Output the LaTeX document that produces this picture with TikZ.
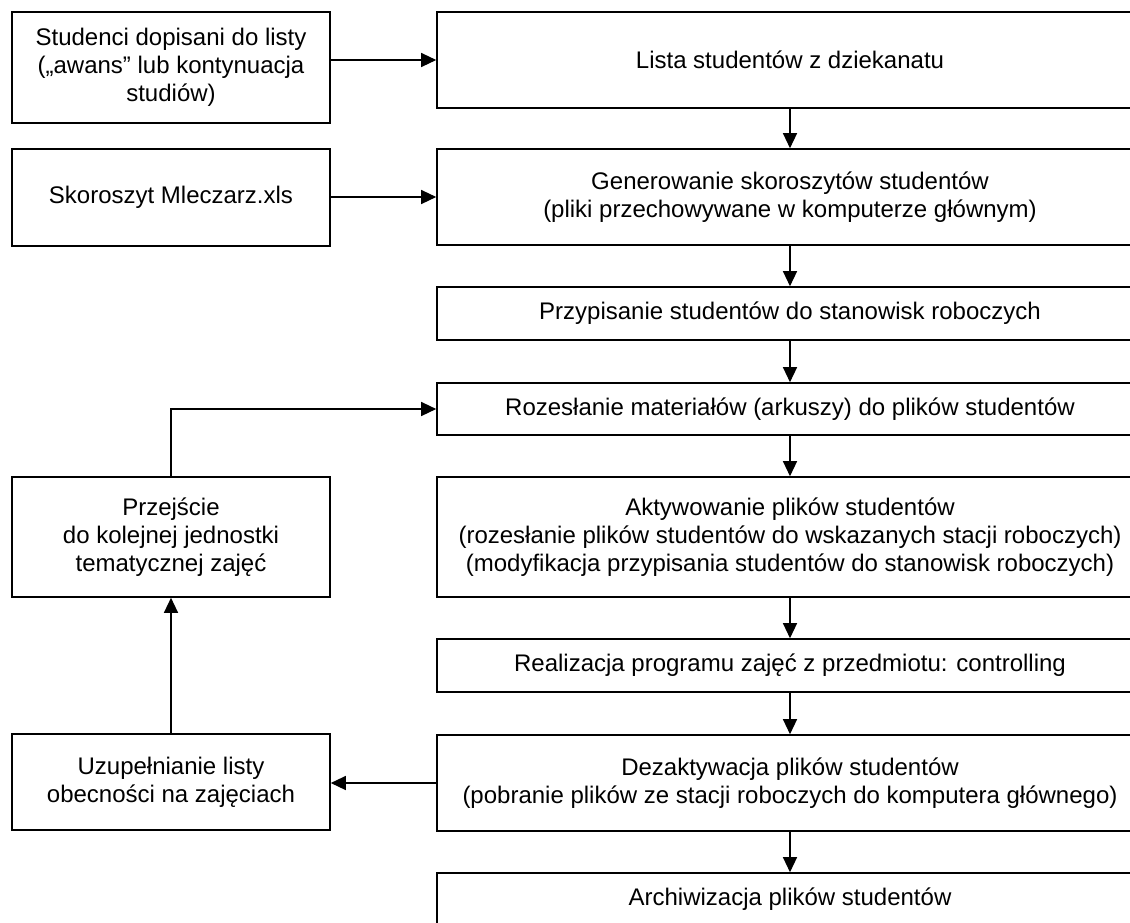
\documentclass[tikz,border=0pt]{standalone}
\usepackage{fontspec}
\setmainfont{Liberation Sans}
\usetikzlibrary{arrows.meta}
\begin{document}
\begin{tikzpicture}[x=1pt,y=-1pt,
  box/.style={draw, line width=1.6pt, inner sep=0pt, align=center,
    font=\fontsize{24}{28}\selectfont},
  lbox/.style={box, minimum width=318pt},
  rbox/.style={box, minimum width=706pt},
  conn/.style={line width=1.3pt, -{Triangle[length=15pt,width=14pt]}}]
\clip (0,0) rectangle (1130,922);
\fill[white] (0,0) rectangle (1130,922);
% left column
\node[lbox, minimum height=111pt] (L1) at (171,67.5) {Studenci dopisani do listy\\(„awans” lub kontynuacja\\studiów)};
\node[lbox, minimum height=97pt] (L2) at (171,197.5) {Skoroszyt Mleczarz.xls};
\node[lbox, minimum height=120pt] (L3) at (171,537) {Przejście\\do kolejnej jednostki\\tematycznej zajęć};
\node[lbox, minimum height=96pt] (L4) at (171,782) {Uzupełnianie listy\\obecności na zajęciach};
% right column
\node[rbox, minimum height=96pt] (R1) at (790,60) {Lista studentów z dziekanatu};
\node[rbox, minimum height=96pt] (R2) at (790,197) {Generowanie skoroszytów studentów\\(pliki przechowywane w komputerze głównym)};
\node[rbox, minimum height=53pt] (R3) at (790,313.5) {Przypisanie studentów do stanowisk roboczych};
\node[rbox, minimum height=52pt] (R4) at (790,409) {Rozesłanie materiałów (arkuszy) do plików studentów};
\node[rbox, minimum height=120pt] (R5) at (790,537) {Aktywowanie plików studentów\\(rozesłanie plików studentów do wskazanych stacji roboczych)\\(modyfikacja przypisania studentów do stanowisk roboczych)};
\node[rbox, minimum height=53pt] (R6) at (790,665.5) {Realizacja programu zajęć z przedmiotu: controlling};
\node[rbox, minimum height=96pt] (R7) at (790,783) {Dezaktywacja plików studentów\\(pobranie plików ze stacji roboczych do komputera głównego)};
\node[rbox, minimum height=53pt] (R8) at (790,899.5) {Archiwizacja plików studentów};
% connectors
\draw[conn] (R1.west -| L1.east) -- (R1.west);
\draw[conn] (R2.west -| L2.east) -- (R2.west);
\draw[conn] (R1.south) -- (R2.north);
\draw[conn] (R2.south) -- (R3.north);
\draw[conn] (R3.south) -- (R4.north);
\draw[conn] (R4.south) -- (R5.north);
\draw[conn] (R5.south) -- (R6.north);
\draw[conn] (R6.south) -- (R7.north);
\draw[conn] (R7.south) -- (R8.north);
\draw[conn] (R7.west) -- (R7.west -| L4.east);
\draw[conn] (L4.north) -- (L3.south);
\draw[conn] (L3.north) |- (R4.west);
\end{tikzpicture}
\end{document}
